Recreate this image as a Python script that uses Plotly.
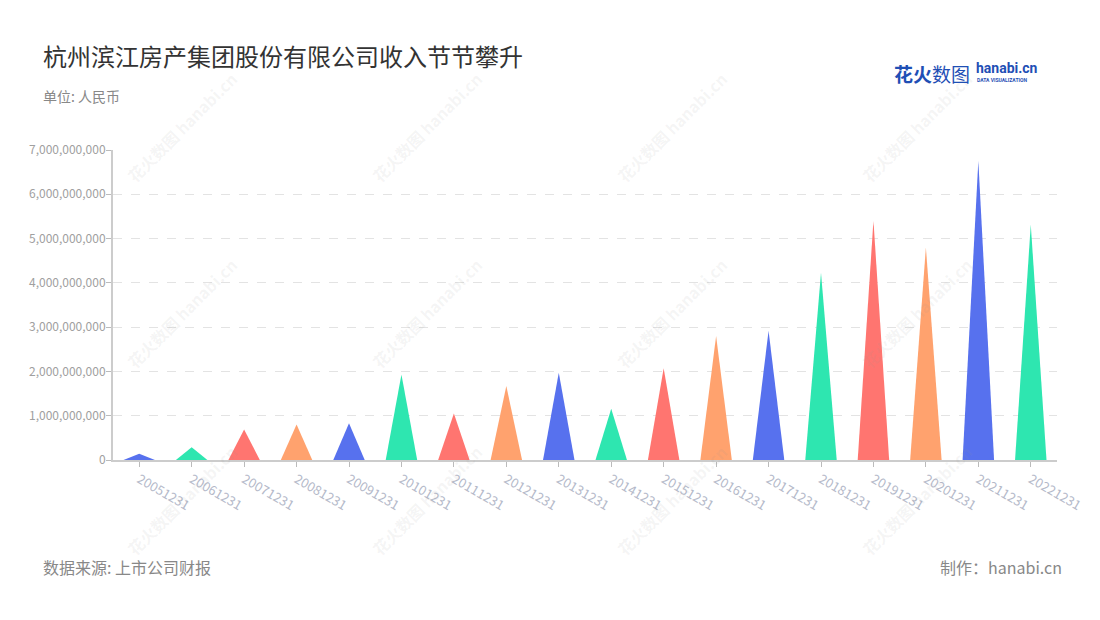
import plotly.graph_objects as go

# revenue of Binjiang Group, RMB
dates = ["20051231", "20061231", "20071231", "20081231", "20091231", "20101231",
         "20111231", "20121231", "20131231", "20141231", "20151231", "20161231",
         "20171231", "20181231", "20191231", "20201231", "20211231", "20221231"]
revenue = [0.14e9, 0.29e9, 0.69e9, 0.80e9, 0.83e9, 1.93e9,
           1.05e9, 1.67e9, 1.97e9, 1.16e9, 2.07e9, 2.80e9,
           2.92e9, 4.23e9, 5.40e9, 4.80e9, 6.75e9, 5.31e9]
y_ticks = [0, 1e9, 2e9, 3e9, 4e9, 5e9, 6e9, 7e9]

PALETTE = ["#5771EE", "#2EE6B0", "#FF7570", "#FFA26E"]
FONT = "Noto Sans CJK SC, Noto Sans, sans-serif"
HALF = 0.3  # half width of each spike, in category units

# plot area in screen pixels (page has an 8px body margin)
X0, X1, Y0, Y1 = 113, 1057, 150, 460
OFF = 8


def px(x):
    return (x - X0) / (X1 - X0)


def py(y):
    return (Y1 - y) / (Y1 - Y0)


fig = go.Figure()
for i, (d, v) in enumerate(zip(dates, revenue)):
    c = PALETTE[i % 4]
    fig.add_trace(go.Scatter(
        x=[i - HALF, i, i + HALF, i - HALF],
        y=[0, v, 0, 0],
        mode="lines", fill="toself", fillcolor=c,
        line=dict(color=c, width=0),
        name=d, showlegend=False, hoverinfo="skip",
    ))

# watermark
wm = []
for cx in [182, 427, 672, 917]:
    for cy in [127, 313, 500]:
        wm.append(dict(
            x=px(cx), y=py(cy), xref="paper", yref="paper",
            text="<b>花火数图</b> <b>hanabi.cn</b>", showarrow=False, textangle=-45,
            font=dict(family=FONT, size=16, color="rgba(150,150,150,0.10)"),
            xanchor="center", yanchor="middle",
        ))


def label(x, y, text, size, color, anchor="left", family=FONT):
    return dict(x=px(x), y=py(y), xref="paper", yref="paper", showarrow=False,
                xanchor=anchor, yanchor="middle", text=text,
                font=dict(family=family, size=size, color=color))


fig.update_layout(
    width=1100, height=620,
    margin=dict(l=X0 - OFF, r=1100 + OFF - X1, t=Y0 - OFF, b=620 + OFF - Y1),
    paper_bgcolor="white", plot_bgcolor="white",
    font=dict(family=FONT, color="#999"),
    xaxis=dict(
        range=[-0.5, len(dates) - 0.5],
        tickvals=list(range(len(dates))), ticktext=dates,
        tickangle=30, tickfont=dict(size=13, color="#b4b9c9"),
        showgrid=False, zeroline=False,
        showline=True, linecolor="#cccccc", linewidth=2,
        ticks="outside", ticklen=5, tickcolor="#bbbbbb",
    ),
    yaxis=dict(
        range=[0, 7e9], tickvals=y_ticks, tickformat=",d",
        tickfont=dict(size=12, color="#a0a0a0"),
        showgrid=True, gridcolor="#e3e3e3", griddash="dash", gridwidth=1,
        zeroline=False, ticklabelstandoff=-2,
        showline=True, linecolor="#cccccc", linewidth=2,
        ticks="outside", ticklen=5, tickcolor="#bbbbbb",
    ),
    annotations=wm + [
        label(41, 55, "杭州滨江房产集团股份有限公司收入节节攀升", 24, "#333333"),
        label(41, 96, "单位: 人民币", 14, "#888888"),
        label(41, 567, "数据来源: 上市公司财报", 16, "#888888"),
        label(1064, 567, "制作：hanabi.cn", 16, "#888888", anchor="right"),
        # logo
        label(892, 73, "<b>花火</b>数图", 19, "#1f4fb5"),
        label(974, 68, "<b>hanabi.cn</b>", 14, "#1f4fb5", family="Roboto, sans-serif"),
        label(975, 80, "<b>DATA VISUALIZATION</b>", 5, "#1f4fb5", family="Roboto, sans-serif"),
    ],
)

fig.write_html("out.html")
